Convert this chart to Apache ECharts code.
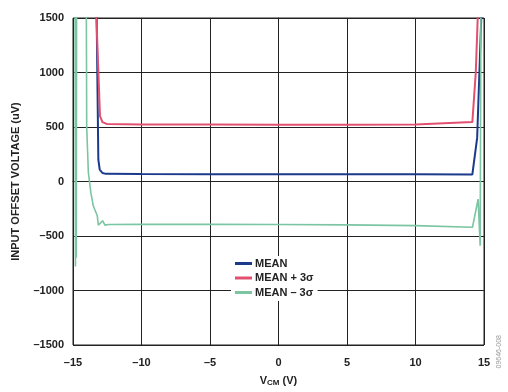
<!DOCTYPE html>
<html>
<head>
<meta charset="utf-8">
<script src="https://cdn.jsdelivr.net/npm/echarts@6/dist/echarts.min.js"></script>
<style>
  html, body { margin: 0; padding: 0; background: #fff; }
  #main { width: 508px; height: 392px; }
</style>
</head>
<body>
<div id="main"></div>
<script>
// 读图得到的数据 (V_CM in V, offset in uV)
var meanData = [
    [-13.3, 1800], [-13.15, 200], [-13.05, 110], [-12.85, 78], [-12.6, 70],
    [-10, 68], [-5, 67], [0, 67], [5, 67], [10, 66], [14.15, 65],
    [14.5, 400], [14.8, 1500], [14.85, 2000]
];
var meanPlusData = [
    [-13.38, 1800], [-13.03, 600], [-12.85, 545], [-12.55, 528],
    [-10, 524], [-5, 522], [0, 521], [5, 521], [10, 523], [14.15, 545],
    [14.4, 1000], [14.57, 1600]
];
var meanMinusData = [
    [-14.86, 2500], [-14.82, -780], [-14.79, 2500], [-14.76, -700], [-14.73, 2500],
    [-14.05, 2500], [-14.0, 500], [-13.88, 85], [-13.7, -100], [-13.52, -223],
    [-13.23, -314], [-13.15, -400], [-12.84, -360], [-12.67, -400], [-12.4, -395],
    [-10, -393], [-5, -393], [0, -395], [5, -398], [10, -405], [14.16, -420],
    [14.57, -162], [14.72, -589], [14.8, 2500]
];
var seriesNames = ['MEAN', 'MEAN + 3σ', 'MEAN – 3σ'];
var seriesColors = ['#1c3a8c', '#e2506f', '#7cc5a2'];

var myChart = echarts.init(document.getElementById('main'));

function dash(v) { return String(v).replace('-', '–'); }

var labelStyle = { color: '#222', fontFamily: 'Liberation Sans, Arial', fontWeight: 'bold', fontSize: 11 };

var option = {
    animation: false,
    backgroundColor: '#fff',
    grid: { left: 73, right: 24, top: 18, bottom: 45, show: true, borderColor: '#222', borderWidth: 1 },
    xAxis: {
        type: 'value', min: -15, max: 15, interval: 5,
        axisLine: { lineStyle: { color: '#222' } },
        axisTick: { show: false },
        splitLine: { lineStyle: { color: '#222', width: 1 } },
        axisLabel: Object.assign({ margin: 12, formatter: dash }, labelStyle),
        name: '{v|V}{s|CM}{v| (V)}',
        nameLocation: 'middle', nameGap: 29,
        nameTextStyle: {
            rich: {
                v: { fontFamily: 'Liberation Sans, Arial', fontWeight: 'bold', fontSize: 11, color: '#222' },
                s: { fontFamily: 'Liberation Sans, Arial', fontWeight: 'bold', fontSize: 8, color: '#222', padding: [5, 0, 0, 0] }
            }
        }
    },
    yAxis: {
        type: 'value', min: -1500, max: 1500, interval: 500,
        axisLine: { lineStyle: { color: '#222' } },
        axisTick: { show: false },
        splitLine: { lineStyle: { color: '#222', width: 1 } },
        axisLabel: Object.assign({ margin: 9, formatter: dash }, labelStyle),
        name: 'INPUT OFFSET VOLTAGE (uV)',
        nameLocation: 'middle', nameGap: 52,
        nameTextStyle: labelStyle
    },
    legend: {
        orient: 'vertical', left: 231, top: 256,
        itemWidth: 17, itemHeight: 3, itemGap: 3.5,
        icon: 'rect',
        backgroundColor: '#fff',
        padding: [2, 4, 3, 4],
        textStyle: Object.assign({ padding: [0, 0, 0, -2] }, labelStyle),
        data: seriesNames
    },
    graphic: [{
        type: 'text', left: 496, top: 335, rotation: Math.PI / 2,
        style: { text: '09646-008', fill: '#999', font: '7px Liberation Sans, Arial' }
    }],
    series: [
        { name: seriesNames[0], type: 'line', data: meanData, symbol: 'none', clip: true,
          lineStyle: { color: seriesColors[0], width: 2 }, itemStyle: { color: seriesColors[0] } },
        { name: seriesNames[1], type: 'line', data: meanPlusData, symbol: 'none', clip: true,
          lineStyle: { color: seriesColors[1], width: 2 }, itemStyle: { color: seriesColors[1] } },
        { name: seriesNames[2], type: 'line', data: meanMinusData, symbol: 'none', clip: true,
          lineStyle: { color: seriesColors[2], width: 1.6 }, itemStyle: { color: seriesColors[2] } }
    ]
};
myChart.setOption(option);
</script>
</body>
</html>
